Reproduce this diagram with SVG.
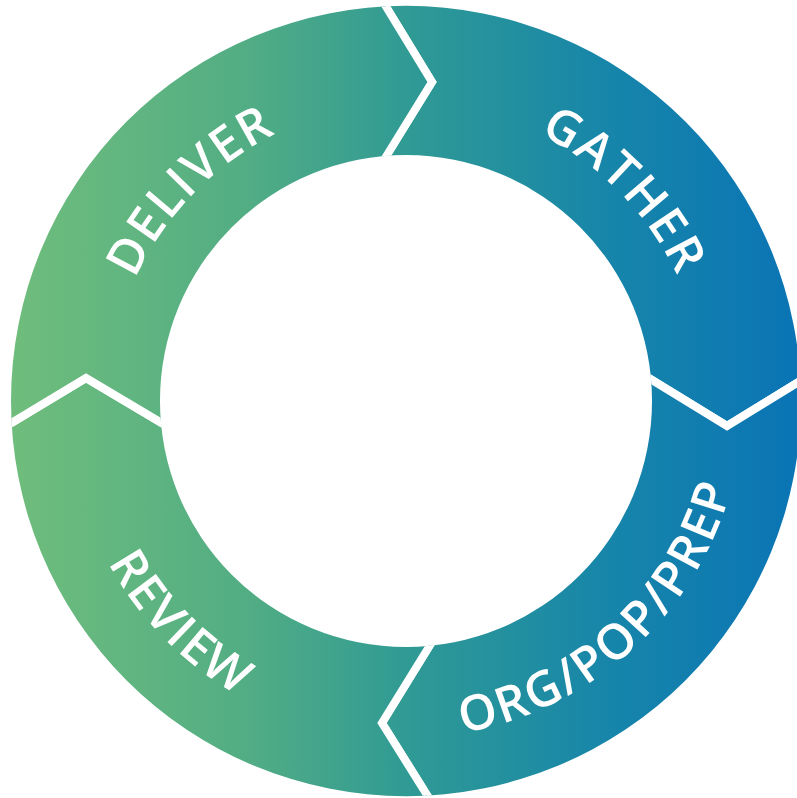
<svg xmlns="http://www.w3.org/2000/svg" width="797" height="798" viewBox="0 0 797 798">
  <style>
    .seg { fill: url(#ringGrad); stroke: #ffffff; stroke-width: 8; stroke-linejoin: miter; stroke-miterlimit: 10; }
    .lbl { font-family: "Open Sans", "Noto Sans", "Liberation Sans", sans-serif; font-weight: 600; font-size: 49px; fill: #ffffff; letter-spacing: 2px; }
  </style>
  <defs>
    <linearGradient id="ringGrad" gradientUnits="userSpaceOnUse" x1="12" y1="0" x2="800" y2="0">
      <stop offset="0" stop-color="#6fbd7c"/>
      <stop offset="0.3" stop-color="#52ad84"/>
      <stop offset="0.5" stop-color="#309a94"/>
      <stop offset="0.75" stop-color="#1786a9"/>
      <stop offset="1" stop-color="#0a74b5"/>
    </linearGradient>
    <clipPath id="ring">
      <path clip-rule="evenodd" d="M11,401 A395,395 0 1 0 801,401 A395,395 0 1 0 11,401 Z M160,401 A246,246 0 1 0 652,401 A246,246 0 1 0 160,401 Z"/>
    </clipPath>
    <path id="arcDeliver" d="M195.1,617.1 A302,302 0 0 1 616.9,184.9"/>
    <path id="arcGather" d="M196.2,183.8 A302,302 0 0 1 615.8,618.2"/>
    <path id="arcOrg" d="M156.1,630 A339,339 0 0 0 655.9,171.9"/>
    <path id="arcReview" d="M168.4,159.2 A339,339 0 0 0 643.6,642.8"/>
  </defs>

  <g id="node-gather">
    <path class="seg" clip-path="url(#ring)" d="M406,401 L364.5,191.5 L387,155 L432,82 L385,5 L375.6,-10.4 L830,-30 L818,370 L797,383 L727,426 L652,380 L614.5,357 Z"/>
    <text class="lbl"><textPath href="#arcGather" startOffset="50%" text-anchor="middle">GATHER</textPath></text>
  </g>

  <g id="node-org-pop-prep">
    <path class="seg" clip-path="url(#ring)" d="M406,401 L614.5,357 L652,380 L727,426 L797,383 L818,370 L830,830 L440.5,816.6 L427,795 L382,723 L427,650 L449.5,613.5 Z"/>
    <text class="lbl"><textPath href="#arcOrg" startOffset="50%" text-anchor="middle">ORG/POP/PREP</textPath></text>
  </g>

  <g id="node-review">
    <path class="seg" clip-path="url(#ring)" d="M406,401 L449.5,613.5 L427,650 L382,723 L427,795 L440.5,816.6 L-30,830 L-9,435 L13,422 L86,378 L160,422 L197,444 Z"/>
    <text class="lbl"><textPath href="#arcReview" startOffset="50%" text-anchor="middle">REVIEW</textPath></text>
  </g>

  <g id="node-deliver">
    <path class="seg" clip-path="url(#ring)" d="M406,401 L197,444 L160,422 L86,378 L13,422 L-9,435 L-30,-30 L375.6,-10.4 L385,5 L432,82 L387,155 L364.5,191.5 Z"/>
    <text class="lbl"><textPath href="#arcDeliver" startOffset="50%" text-anchor="middle">DELIVER</textPath></text>
  </g>
</svg>
